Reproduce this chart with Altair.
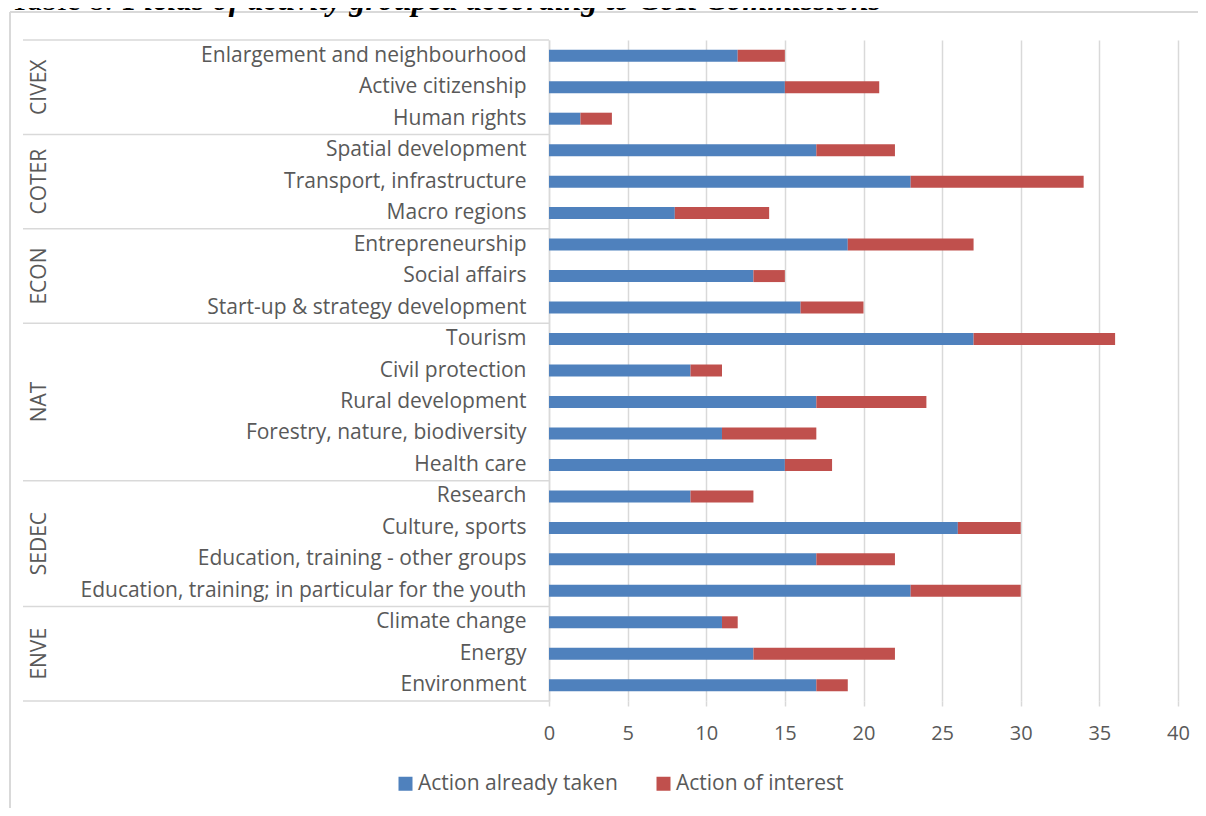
import altair as alt
import pandas as pd

# ---------------- data ----------------
groups = ["CIVEX", "COTER", "ECON", "NAT", "SEDEC", "ENVE"]
group_sizes = [3, 3, 3, 5, 4, 3]
fields = [
    "Enlargement and neighbourhood", "Active citizenship", "Human rights",
    "Spatial development", "Transport, infrastructure", "Macro regions",
    "Entrepreneurship", "Social affairs", "Start-up & strategy development",
    "Tourism", "Civil protection", "Rural development",
    "Forestry, nature, biodiversity", "Health care",
    "Research", "Culture, sports", "Education, training - other groups",
    "Education, training; in particular for the youth",
    "Climate change", "Energy", "Environment",
]
taken = [12, 15, 2, 17, 23, 8, 19, 13, 16, 27, 9, 17, 11, 15, 9, 26, 17, 23, 11, 13, 17]
interest = [3, 6, 2, 5, 11, 6, 8, 2, 4, 9, 2, 7, 6, 3, 4, 4, 5, 7, 1, 9, 2]
series = ["Action already taken", "Action of interest"]
colors = ["#4F81BD", "#C0504D"]
x_ticks = [0, 5, 10, 15, 20, 25, 30, 35, 40]
title_parts = ["Table 8.", "Fields of activity grouped according to CoR Commissions"]

# ---------------- tables ----------------
rows = []
for f, a, b in zip(fields, taken, interest):
    rows.append({"field": f, "series": series[0], "value": a, "order": 0})
    rows.append({"field": f, "series": series[1], "value": b, "order": 1})
bars_df = pd.DataFrame(rows)

starts, odd_mid, even_mid = [], [], []
i = 0
for g, n in zip(groups, group_sizes):
    members = fields[i:i + n]
    starts.append({"field": members[0], "group": g})
    if n % 2:
        odd_mid.append({"field": members[n // 2], "group": g})
    else:
        even_mid.append({"field": members[n // 2], "group": g})
    i += n
starts_df = pd.DataFrame(starts)
bottom_df = pd.DataFrame([{"field": fields[-1]}])
odd_df = pd.DataFrame(odd_mid)
even_df = pd.DataFrame(even_mid)

GRID = "#D9D9D9"
TXT = "#595959"
FONT = "Open Sans"
LSIZE = 21

y_scale = alt.Scale(domain=fields, paddingInner=0, paddingOuter=0)
y_axis = alt.Axis(title=None, labelFont=FONT, labelFontSize=LSIZE, labelColor=TXT,
                  labelPadding=23, ticks=False, domainColor=GRID, domainWidth=1.5,
                  labelLimit=700, grid=False)


def ycat(band=None):
    if band is None:
        return alt.Y("field:N", sort=fields, scale=y_scale, axis=y_axis)
    return alt.Y("field:N", sort=fields, scale=y_scale, axis=y_axis, bandPosition=band)


bars = alt.Chart(bars_df).mark_bar(size=12).encode(
    y=ycat(),
    x=alt.X("value:Q", stack="zero",
            scale=alt.Scale(domain=[0, 40], nice=False),
            axis=alt.Axis(title=None, values=x_ticks, grid=True, gridColor=GRID,
                          gridWidth=1.5, domain=False, ticks=True, tickColor=GRID,
                          tickSize=5, tickWidth=1.5, labelFont=FONT, labelFontSize=20,
                          labelColor=TXT, labelPadding=17, labelFlush=False)),
    color=alt.Color("series:N", scale=alt.Scale(domain=series, range=colors),
                    legend=alt.Legend(orient="none", legendX=-154, legendY=733,
                                      direction="horizontal", title=None,
                                      symbolType="square", symbolSize=196,
                                      symbolStrokeWidth=0, labelFont=FONT,
                                      labelFontSize=LSIZE, labelColor=TXT,
                                      labelOffset=2, columnPadding=35,
                                      labelLimit=400)),
    order=alt.Order("order:Q"),
)

seps = alt.Chart(starts_df).mark_rule(color=GRID, strokeWidth=1.5).encode(
    y=ycat(0), x=alt.value(-526), x2=alt.value(0))
seps_bottom = alt.Chart(bottom_df).mark_rule(color=GRID, strokeWidth=1.5).encode(
    y=ycat(1), x=alt.value(-526), x2=alt.value(0))

glab_odd = alt.Chart(odd_df).mark_text(angle=270, align="center", baseline="middle",
                                       font=FONT, fontSize=LSIZE, color=TXT).encode(
    y=ycat(0.5), x=alt.value(-509), text="group:N")
glab_even = alt.Chart(even_df).mark_text(angle=270, align="center", baseline="middle",
                                         font=FONT, fontSize=LSIZE, color=TXT).encode(
    y=ycat(0), x=alt.value(-509), text="group:N")

one = alt.Data(values=[{"a": 1}])
frame_left = alt.Chart(one).mark_rule(color=GRID, strokeWidth=2).encode(
    x=alt.value(-539), y=alt.value(-28), y2=alt.value(780))
frame_top = alt.Chart(one).mark_rule(color=GRID, strokeWidth=2).encode(
    y=alt.value(-28), x=alt.value(-539), x2=alt.value(660))

title_a = alt.Chart(alt.Data(values=[{"t": title_parts[0]}])).mark_text(
    align="left", baseline="alphabetic", font="Liberation Serif", fontSize=32,
    color="black").encode(x=alt.value(-539), y=alt.value(-30), text="t:N")
title_b = alt.Chart(alt.Data(values=[{"t": title_parts[1]}])).mark_text(
    align="left", baseline="alphabetic", font="Liberation Serif", fontSize=32,
    fontWeight="bold", fontStyle="italic", color="black").encode(
    x=alt.value(-426), y=alt.value(-30), text="t:N")

chart = alt.layer(
    frame_left, frame_top, seps, seps_bottom, bars, glab_odd, glab_even, title_a, title_b
).properties(
    width=629, height=661,
    autosize=alt.AutoSizeParams(type="none"),
    padding={"left": 541, "top": 32, "right": 20, "bottom": 107},
).configure_view(stroke=None)

chart.save("out.html", embed_options={"renderer": "svg", "actions": False})
